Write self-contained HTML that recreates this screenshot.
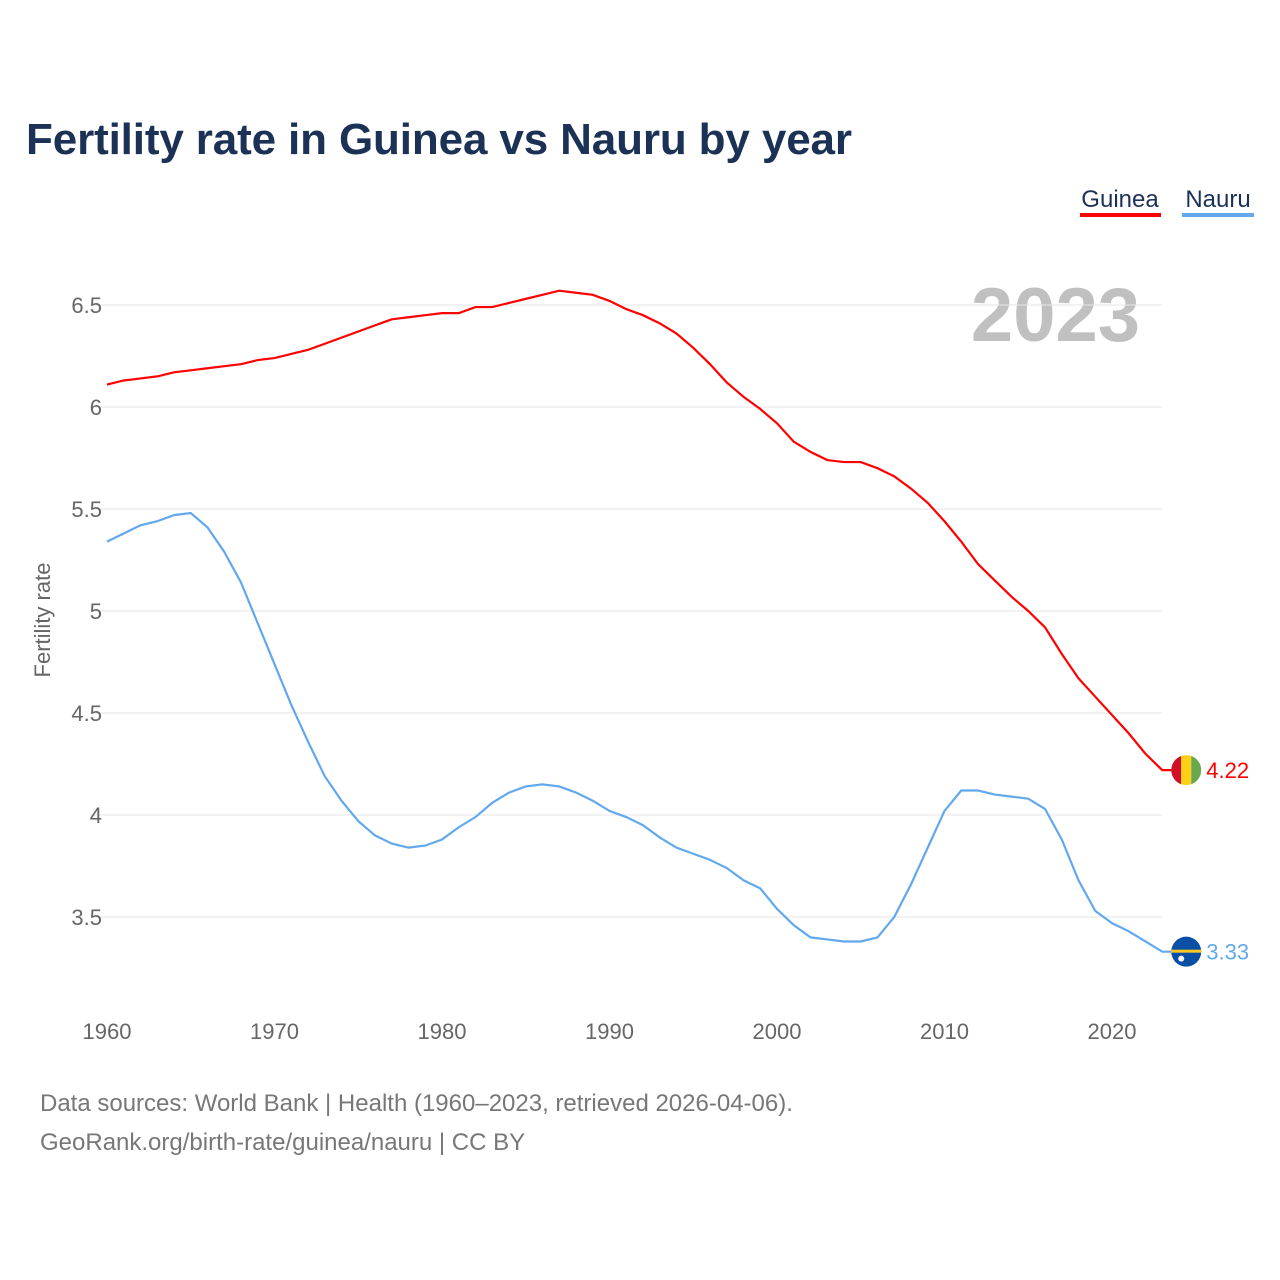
<!DOCTYPE html>
<html><head><meta charset="utf-8"><style>
body{margin:0;background:#fff;font-family:"Liberation Sans",sans-serif;}
#wrap{position:relative;width:1280px;height:1280px;overflow:hidden}
</style></head><body><div id="wrap">
<svg id="chart" width="1280" height="1280">
<text x="26" y="154" font-size="44" font-weight="bold" fill="#1b3156" textLength="826">Fertility rate in Guinea vs Nauru by year</text>
<g><text x="1120" y="207" font-size="24" fill="#1b3156" text-anchor="middle">Guinea</text><rect x="1080" y="213" width="81" height="4" fill="#ff0000"/></g>
<g><text x="1218" y="207" font-size="24" fill="#1b3156" text-anchor="middle">Nauru</text><rect x="1182" y="213" width="72" height="4" fill="#62a8ec"/></g>
<text x="1140" y="341" font-size="76" font-weight="bold" fill="#c0c0c0" text-anchor="end">2023</text>
<text transform="translate(50,620) rotate(-90)" font-size="22" fill="#666" text-anchor="middle">Fertility rate</text>
<g id="grid"></g><g id="series"></g>
<text x="40" y="1111" font-size="24" fill="#777">Data sources: World Bank | Health (1960–2023, retrieved 2026-04-06).</text>
<text x="40" y="1150" font-size="24" fill="#777">GeoRank.org/birth-rate/guinea/nauru | CC BY</text>
</svg></div>
<script>
const years=[];for(let y=1960;y<=2023;y++)years.push(y);
const guinea=[6.11,6.13,6.14,6.15,6.17,6.18,6.19,6.20,6.21,6.23,6.24,6.26,6.28,6.31,6.34,6.37,6.40,6.43,6.44,6.45,6.46,6.46,6.49,6.49,6.51,6.53,6.55,6.57,6.56,6.55,6.52,6.48,6.45,6.41,6.36,6.29,6.21,6.12,6.05,5.99,5.92,5.83,5.78,5.74,5.73,5.73,5.70,5.66,5.60,5.53,5.44,5.34,5.23,5.15,5.07,5.00,4.92,4.79,4.67,4.58,4.49,4.40,4.30,4.22];
const nauru=[5.34,5.38,5.42,5.44,5.47,5.48,5.41,5.29,5.14,4.94,4.74,4.54,4.36,4.19,4.07,3.97,3.90,3.86,3.84,3.85,3.88,3.94,3.99,4.06,4.11,4.14,4.15,4.14,4.11,4.07,4.02,3.99,3.95,3.89,3.84,3.81,3.78,3.74,3.68,3.64,3.54,3.46,3.40,3.39,3.38,3.38,3.40,3.50,3.66,3.84,4.02,4.12,4.12,4.10,4.09,4.08,4.03,3.88,3.68,3.53,3.47,3.43,3.38,3.33];
const yTicks=[3.5,4,4.5,5,5.5,6,6.5];
const xTicks=[1960,1970,1980,1990,2000,2010,2020];
const X=y=>107+(y-1960)*16.75, Y=v=>305+(6.5-v)*204;
const NS="http://www.w3.org/2000/svg";
function mk(t,a,p){const e=document.createElementNS(NS,t);for(const k in a)e.setAttribute(k,a[k]);p.appendChild(e);return e;}
const grid=document.getElementById('grid'),ser=document.getElementById('series');
yTicks.forEach(v=>{
 const l=mk('line',{x1:90,x2:1162,y1:Y(v),y2:Y(v),stroke:'#e6e6e6','stroke-width':1},grid);
 
 
 const t=mk('text',{x:102,y:Y(v)+8,'font-size':22,fill:'#666','text-anchor':'end'},grid);t.textContent=String(v);
 
 
});
xTicks.forEach(y=>{
 const t=mk('text',{x:X(y),y:1039,'font-size':22,fill:'#666','text-anchor':'middle'},grid);t.textContent=y;
 
 
});
const last=years.length-1, cx=X(2023)+24;
function line(vals,col,name){
 const d=vals.map((v,i)=>(i?'L':'M')+X(years[i])+','+Y(v)).join('')+'L'+(cx-12)+','+Y(vals[last]);
 const p=mk('path',{d:d,fill:'none',stroke:col,'stroke-width':2.2},ser);
 
 
}
line(guinea,'#ff0000','guinea-line');line(nauru,'#62a8ec','nauru-line');
let g=mk('g',{},ser);


mk('clipPath',{id:'cg'},g);mk('circle',{cx:cx,cy:Y(guinea[last]),r:15},g.lastChild);
const gy=Y(guinea[last]);
[['#ce1126',0],['#fcd116',10],['#6aa84f',20]].forEach(([c,o])=>mk('rect',{x:cx-15+o,y:gy-15,width:10,height:30,fill:c,'clip-path':'url(#cg)'},g));
let t=mk('text',{x:cx+20,y:gy+8,'font-size':22,fill:'#ff0000'},ser);t.textContent=guinea[last].toFixed(2);


const ny=Y(nauru[last]);
g=mk('g',{},ser);


mk('circle',{cx:cx,cy:ny,r:15,fill:'#0a4fa6'},g);
mk('rect',{x:cx-15,y:ny-2,width:30,height:3,fill:'#ffc61e'},g);
mk('circle',{cx:cx-5,cy:ny+7,r:3,fill:'#fff'},g);
t=mk('text',{x:cx+20,y:ny+8,'font-size':22,fill:'#62a8ec'},ser);t.textContent=nauru[last].toFixed(2);


</script></body></html>
